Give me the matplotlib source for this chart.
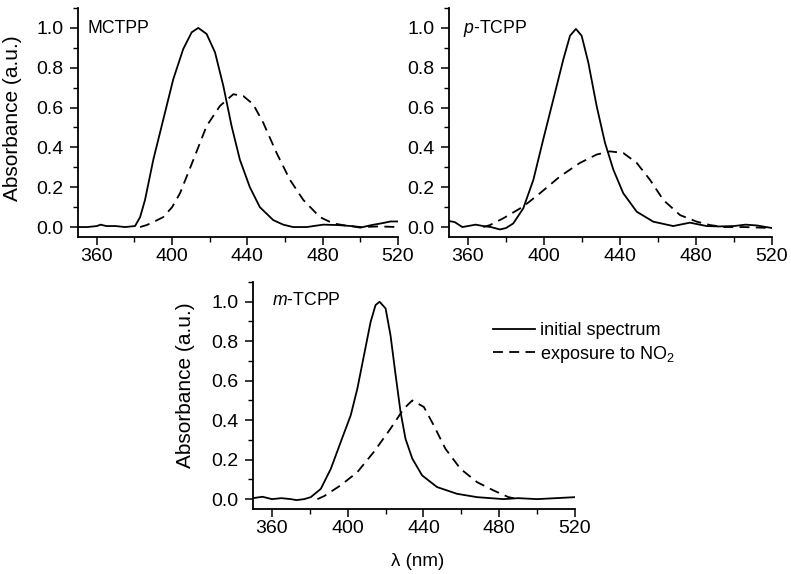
import numpy as np
import matplotlib
matplotlib.use('Agg')
import matplotlib.pyplot as plt
from matplotlib.ticker import MultipleLocator

plt.rcParams['font.family'] = ['Liberation Sans', 'DejaVu Sans']
plt.rcParams['mathtext.fontset'] = 'custom'
plt.rcParams['mathtext.rm'] = 'Liberation Sans'
plt.rcParams['mathtext.it'] = 'Liberation Sans:italic'

#=====================================================================
#Spectra (wavelength in nm, absorbance in a.u.)
#=====================================================================

# MCTPP
mctpp_wl_init = [350, 355, 360, 362, 365, 370, 375, 380.3, 383, 385.6, 390, 395.3, 400.6,
                 405.9, 410.4, 413.9, 418.3, 422.8, 427.2, 431.6, 436, 441.3, 446.6,
                 453.7, 459, 464.3, 471.5, 480.3, 488, 495, 500, 506, 512, 516, 520]
mctpp_abs_init = [0.0, 0.0, 0.005, 0.012, 0.005, 0.005, 0.0, 0.005, 0.05, 0.136, 0.338,
                  0.54, 0.742, 0.894, 0.978, 1.0, 0.97, 0.877, 0.709, 0.507, 0.338, 0.2,
                  0.1, 0.035, 0.012, 0.0, 0.0, 0.012, 0.01, 0.005, -0.003, 0.01, 0.02,
                  0.028, 0.028]
mctpp_wl_no2 = [383, 386.5, 390, 395.3, 400, 404.2, 411.3, 418.3, 425.4, 432.5, 437.8,
                443.1, 448.4, 455.5, 462.6, 469.7, 478.5, 485.6, 492, 500, 510, 520]
mctpp_abs_no2 = [0.0, 0.01, 0.025, 0.05, 0.1, 0.17, 0.338, 0.507, 0.608, 0.667, 0.658,
                 0.616, 0.524, 0.372, 0.237, 0.136, 0.05, 0.018, 0.008, 0.0, 0.003, 0.0]

# p-TCPP
ptcpp_wl_init = [350, 353, 357, 360, 364, 368, 372, 376.8, 380, 383.8, 389.1, 394.4,
                 399.6, 404.9, 410.2, 413.7, 416.8, 419.8, 423.3, 427.7, 432.1, 436.5,
                 441.7, 448.8, 457.5, 468, 476.8, 485.6, 492, 500, 506, 512, 520]
ptcpp_abs_init = [0.03, 0.025, 0.0, 0.005, 0.012, 0.005, 0.0, -0.012, -0.005, 0.018,
                  0.094, 0.237, 0.44, 0.641, 0.843, 0.961, 0.995, 0.961, 0.827, 0.608,
                  0.423, 0.288, 0.17, 0.077, 0.027, 0.005, 0.022, 0.005, 0.003, 0.005,
                  0.012, 0.008, -0.005]
ptcpp_wl_no2 = [368, 371.6, 378.6, 389.1, 397.9, 408.4, 418.9, 427.7, 434.7, 441.7,
                448.8, 455.8, 462.8, 471.6, 480.4, 487.4, 495, 505, 520]
ptcpp_abs_no2 = [0.0, 0.01, 0.044, 0.103, 0.17, 0.254, 0.322, 0.364, 0.38, 0.372,
                 0.322, 0.237, 0.136, 0.06, 0.027, 0.01, 0.0, 0.0, -0.005]

# m-TCPP
mtcpp_wl_init = [350, 355, 360, 365, 370, 373, 377, 380.5, 385.8, 391.1, 396.3, 401.6,
                 405.1, 408.6, 412.1, 414.7, 416.8, 420, 422.6, 425.3, 427.9, 430.5,
                 434.1, 439.3, 447.2, 457.7, 468.3, 482.3, 490, 500, 510, 520]
mtcpp_abs_init = [0.005, 0.012, 0.0, 0.005, 0.0, -0.005, 0.0, 0.01, 0.052, 0.154, 0.289,
                  0.425, 0.56, 0.729, 0.898, 0.983, 1.0, 0.966, 0.83, 0.628, 0.442,
                  0.306, 0.205, 0.12, 0.061, 0.027, 0.01, 0.0, 0.005, 0.0, 0.005, 0.01]
mtcpp_wl_no2 = [384, 387.5, 396.3, 405.1, 413.8, 422.6, 429.6, 434.1, 440.2, 445.4,
                451.6, 459.5, 468.3, 477, 484.9, 490]
mtcpp_abs_no2 = [0.0, 0.015, 0.07, 0.137, 0.239, 0.357, 0.458, 0.5, 0.467, 0.374,
                 0.255, 0.154, 0.086, 0.044, 0.01, 0.0]

panel_labels = ['MCTPP', r'$\it{p}$-TCPP', r'$\it{m}$-TCPP']
legend_labels = ['initial spectrum', 'exposure to NO$_2$']

#=====================================================================
#Figure
#=====================================================================

W, H = 791, 574
fig = plt.figure(figsize=(W / 100, H / 100), dpi=100)

def px_axes(left, top, right, bottom):
    return fig.add_axes([left / W, 1 - bottom / H, (right - left) / W, (bottom - top) / H])

ax1 = px_axes(78, 8, 398, 237)
ax2 = px_axes(449, 8, 772, 237)
ax3 = px_axes(253, 282, 575, 509)

data = [
    (ax1, mctpp_wl_init, mctpp_abs_init, mctpp_wl_no2, mctpp_abs_no2, (0.031, 0.91)),
    (ax2, ptcpp_wl_init, ptcpp_abs_init, ptcpp_wl_no2, ptcpp_abs_no2, (0.043, 0.91)),
    (ax3, mtcpp_wl_init, mtcpp_abs_init, mtcpp_wl_no2, mtcpp_abs_no2, (0.058, 0.92)),
]

for (ax, wi, ai, wn, an, pos), lab in zip(data, panel_labels):
    l1, = ax.plot(wi, ai, color='black', lw=1.3, label=legend_labels[0])
    l2, = ax.plot(wn, an, color='black', lw=1.3, dashes=(5.5, 3.5), label=legend_labels[1])
    ax.set_xlim(350, 520)
    ax.set_ylim(-0.05, 1.1)
    ax.xaxis.set_minor_locator(MultipleLocator(20))
    ax.yaxis.set_minor_locator(MultipleLocator(0.1))
    ax.set_xticks([360, 400, 440, 480, 520])
    ax.set_yticks([0.0, 0.2, 0.4, 0.6, 0.8, 1.0])
    ax.yaxis.set_major_formatter(plt.FormatStrFormatter('%.1f'))
    ax.spines['top'].set_visible(False)
    ax.spines['right'].set_visible(False)
    ax.spines['left'].set_linewidth(1.3)
    ax.spines['bottom'].set_linewidth(1.3)
    ax.tick_params(which='major', direction='out', length=5.5, width=1.1, labelsize=14)
    ax.tick_params(axis='y', which='major', pad=5)
    ax.tick_params(axis='x', which='major', pad=2.5)
    ax.tick_params(which='minor', direction='out', length=3.5, width=1.0)
    ax.text(pos[0], pos[1], lab, transform=ax.transAxes, fontsize=12.7,
            va='center', ha='left')

ax1.set_ylabel('Absorbance (a.u.)', fontsize=15)
ax1.yaxis.set_label_coords(-0.175, 0.52)
ax3.set_ylabel('Absorbance (a.u.)', fontsize=15)
ax3.yaxis.set_label_coords(-0.18, 0.546)
ax3.set_xlabel('λ (nm)', fontsize=13.5)
ax3.xaxis.set_label_coords(0.51, -0.195)

fig.legend(handles=[l1, l2], loc='upper left', bbox_to_anchor=(493 / W, 1 - 322 / H),
           frameon=False, fontsize=13, handlelength=2.3, handletextpad=0.3,
           borderpad=0, borderaxespad=0, labelspacing=0.25)

fig.savefig('out.png', dpi=100)
